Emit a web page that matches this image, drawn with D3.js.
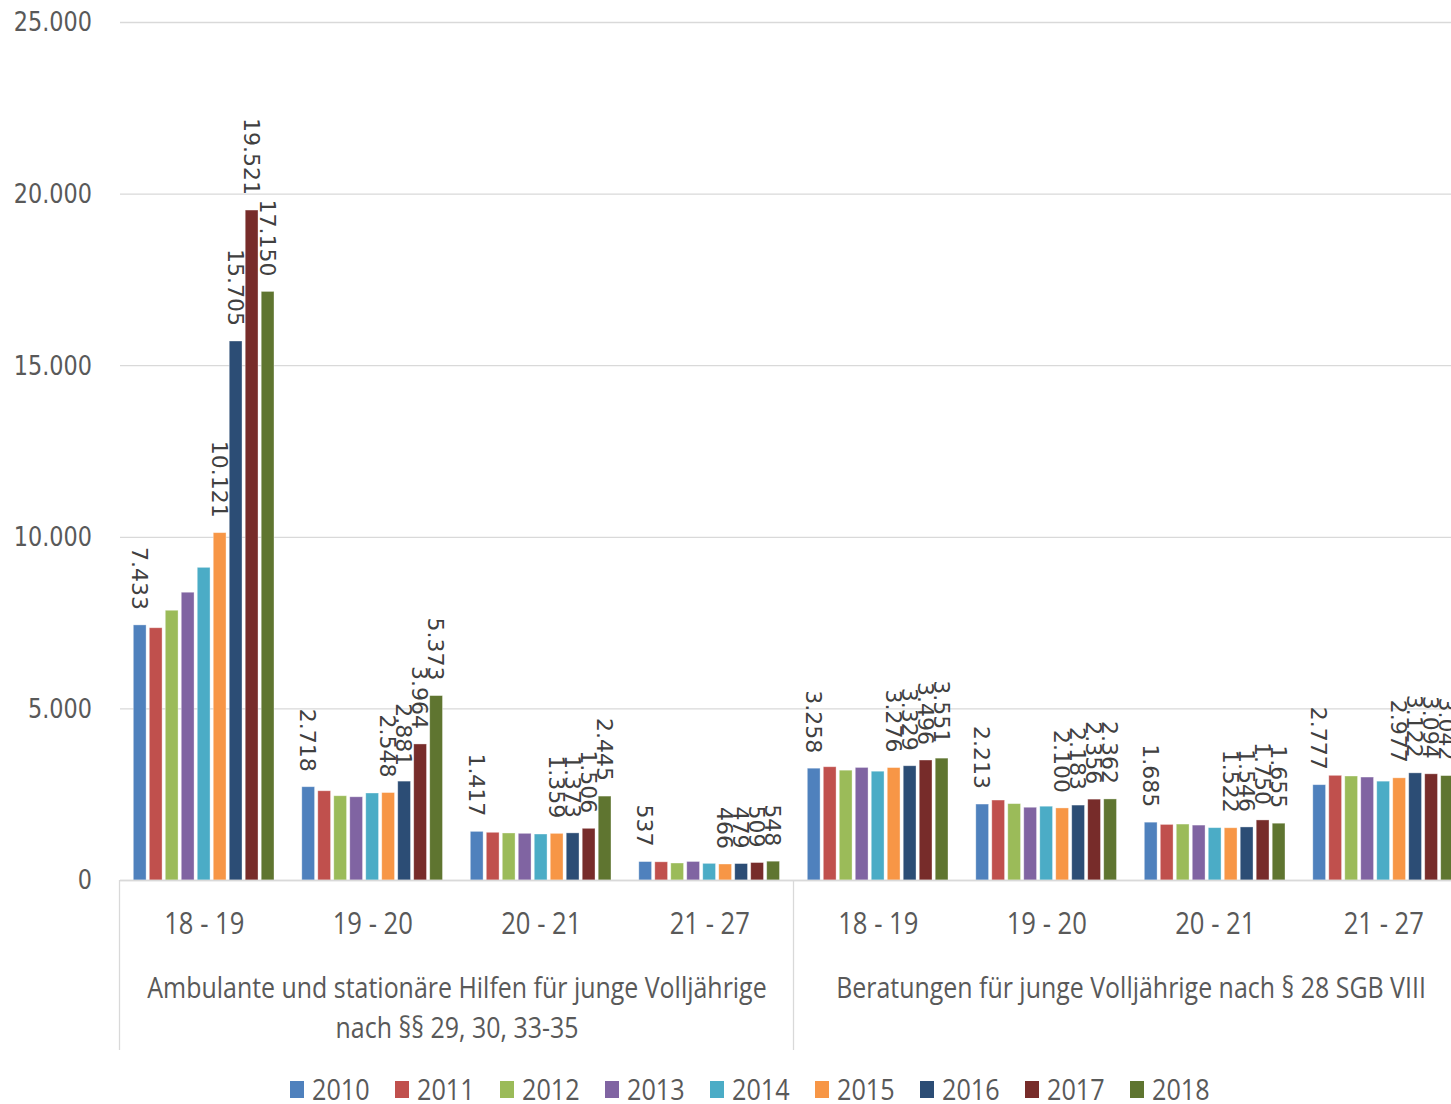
<!DOCTYPE html>
<html lang="de">
<head>
<meta charset="utf-8">
<title>Hilfen und Beratungen für junge Volljährige 2010–2018</title>
<script src="https://cdn.jsdelivr.net/npm/d3@7/dist/d3.min.js"></script>
<style>
  html, body { margin: 0; padding: 0; background: #ffffff; overflow: hidden; }
  svg { display: block; }
</style>
</head>
<body>
<svg id="chart" width="1451" height="1104"></svg>
<script>
// Age bands on the inner category axis, repeated inside each outer group
const ageBands = ["18 - 19", "19 - 20", "20 - 21", "21 - 27"];

// Outer category groups (each label may wrap onto two lines)
const groupLabels = [
  ["Ambulante und stationäre Hilfen für junge Volljährige", "nach §§ 29, 30, 33-35"],
  ["Beratungen für junge Volljährige nach § 28 SGB VIII"]
];

// Years (one series each)
const years = ["2010", "2011", "2012", "2013", "2014", "2015", "2016", "2017", "2018"];

// Series values, in category order: group 1 (4 age bands), then group 2 (4 age bands)
const v2010 = [7433, 2718, 1417, 537, 3258, 2213, 1685, 2777];
const v2011 = [7350, 2600, 1390, 530, 3300, 2330, 1620, 3050];
const v2012 = [7860, 2455, 1370, 495, 3200, 2225, 1630, 3030];
const v2013 = [8385, 2425, 1360, 540, 3280, 2120, 1600, 3000];
const v2014 = [9110, 2535, 1340, 485, 3170, 2150, 1525, 2880];
const v2015 = [10121, 2548, 1359, 466, 3276, 2100, 1522, 2977];
const v2016 = [15705, 2881, 1373, 479, 3329, 2183, 1546, 3122];
const v2017 = [19521, 3964, 1506, 509, 3496, 2356, 1750, 3094];
const v2018 = [17150, 5373, 2445, 548, 3551, 2362, 1655, 3042];

// Series whose values are printed above the bars
const labelledYears = ["2010", "2015", "2016", "2017", "2018"];

// Value-axis ticks
const yTicks = [0, 5000, 10000, 15000, 20000, 25000];

const seriesValues = [v2010, v2011, v2012, v2013, v2014, v2015, v2016, v2017, v2018];
const colors = ["#4F81BD", "#C0504D", "#9BBB59", "#8064A2", "#4BACC6",
                "#F79646", "#2C4D75", "#772C2A", "#5F7530"];

// Flattened category list: one entry per (group, age band)
const categories = [];
groupLabels.forEach((g, gi) => ageBands.forEach((a, ai) => categories.push({ gi, ai, band: a })));

const de = d3.formatLocale({ decimal: ",", thousands: ".", grouping: [3], currency: ["", " €"] });
const fmt = de.format(",d");

const svg = d3.select("#chart");

// Geometry
const plotLeft = 120, plotRight = 1468, plotTop = 22, plotBottom = 880;
const condensed = 0.84;          // horizontal squeeze for the category / legend font
const catFont = "'Open Sans', 'Noto Sans', sans-serif";
const numFont = "'DejaVu Sans', Verdana, sans-serif";
const textColor = "#595959";
const gridColor = "#d9d9d9";

const y = d3.scaleLinear().domain([0, 25000]).range([plotBottom, plotTop]);
const x0 = d3.scaleBand().domain(d3.range(categories.length)).range([plotLeft, plotRight]).padding(0);
const x1 = d3.scaleBand().domain(years).range([13.3, x0.bandwidth() - 14.5]).paddingInner(0.2).paddingOuter(0);
const color = d3.scaleOrdinal().domain(years).range(colors);

// Horizontal gridlines
const yAxis = d3.axisLeft(y).tickValues(yTicks).tickFormat("")
  .tickSize(-(plotRight - plotLeft));
const yg = svg.append("g").attr("transform", `translate(${plotLeft},0)`).call(yAxis);
yg.select(".domain").remove();
yg.selectAll(".tick line").attr("stroke", gridColor).attr("stroke-width", 1.3);

// Value-axis labels (slightly tall, narrow numerals)
svg.append("g").selectAll("text")
  .data(yTicks)
  .join("text")
  .attr("transform", d => `translate(92,${y(d)}) scale(0.86,1)`)
  .attr("text-anchor", "end")
  .attr("dy", "0.36em")
  .attr("font-family", numFont).attr("font-size", 26).attr("fill", textColor)
  .text(d => fmt(d));

// Bars
const groups = svg.append("g").selectAll("g.cat")
  .data(categories)
  .join("g")
  .attr("class", "cat")
  .attr("transform", (d, i) => `translate(${x0(i)},0)`);

groups.selectAll("rect")
  .data((d, i) => years.map((yr, s) => ({ yr, value: seriesValues[s][i] })))
  .join("rect")
  .attr("x", d => x1(d.yr))
  .attr("width", x1.bandwidth())
  .attr("y", d => y(d.value))
  .attr("height", d => y(0) - y(d.value))
  .attr("fill", d => color(d.yr))
  .attr("stroke", "#ffffff")
  .attr("stroke-opacity", 0.45)
  .attr("stroke-width", 0.8);

// Rotated value labels for the selected series
groups.selectAll("text.val")
  .data((d, i) => years.map((yr, s) => ({ yr, value: seriesValues[s][i] }))
                       .filter(d => labelledYears.includes(d.yr)))
  .join("text")
  .attr("class", "val")
  .attr("transform", d => `translate(${x1(d.yr) + x1.bandwidth() / 2},${y(d.value) - 15}) rotate(90)`)
  .attr("text-anchor", "end")
  .attr("dy", "0.36em")
  .attr("font-family", numFont).attr("font-size", 22).attr("fill", "#404040")
  .text(d => fmt(d.value));

// Category axis line
svg.append("line")
  .attr("x1", plotLeft).attr("x2", plotRight)
  .attr("y1", y(0) + 0.5).attr("y2", y(0) + 0.5)
  .attr("stroke", gridColor).attr("stroke-width", 1.3);

// Group dividers below the axis
const groupEdges = [0, ageBands.length, categories.length];
svg.append("g").selectAll("line")
  .data(groupEdges)
  .join("line")
  .attr("x1", i => (i < categories.length ? x0(i) : plotRight) - 0.5)
  .attr("x2", i => (i < categories.length ? x0(i) : plotRight) - 0.5)
  .attr("y1", y(0)).attr("y2", 1050)
  .attr("stroke", gridColor).attr("stroke-width", 1.3);

// Helper: text drawn in a horizontally condensed style, centred on cx
function condensedText(sel, cx, yPos, size, str) {
  sel.append("text")
    .attr("transform", `translate(${cx},${yPos}) scale(${condensed},1)`)
    .attr("text-anchor", "middle")
    .attr("font-family", catFont).attr("font-size", size).attr("fill", textColor)
    .text(str);
}

// Inner category labels
const catLabels = svg.append("g");
categories.forEach((c, i) => {
  condensedText(catLabels, x0(i) + x0.bandwidth() / 2, 934, 30.5, c.band);
});

// Outer group labels
groupLabels.forEach((lines, gi) => {
  const first = x0(gi * ageBands.length);
  const lastIdx = (gi + 1) * ageBands.length - 1;
  const cx = (first + x0(lastIdx) + x0.bandwidth()) / 2;
  lines.forEach((ln, li) => condensedText(catLabels, cx, 998 + li * 40, 29.7, ln));
});

// Legend
const legend = svg.append("g").selectAll("g")
  .data(years)
  .join("g")
  .attr("transform", (d, i) => `translate(${290 + i * 105},0)`);
legend.append("rect")
  .attr("x", 0).attr("y", 1081).attr("width", 14).attr("height", 17)
  .attr("fill", d => color(d));
legend.append("text")
  .attr("transform", `translate(22,1099.5) scale(${condensed},1)`)
  .attr("font-family", catFont).attr("font-size", 30).attr("fill", textColor)
  .text(d => d);
</script>
</body>
</html>
